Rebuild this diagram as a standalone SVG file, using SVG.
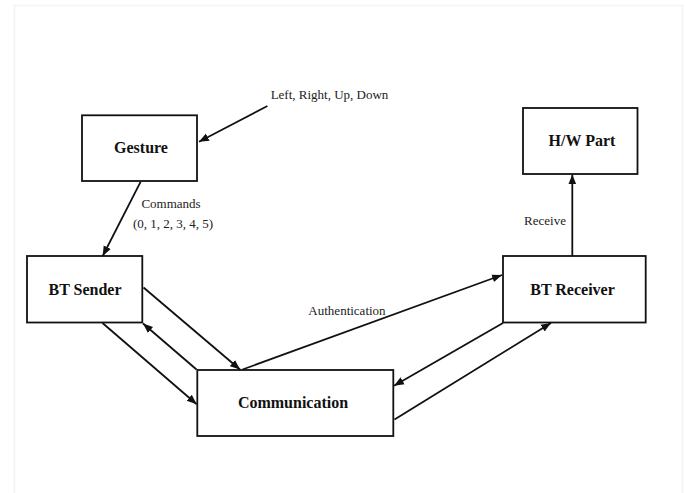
<svg xmlns="http://www.w3.org/2000/svg" width="685" height="493" viewBox="0 0 685 493">
<style>
.box{fill:#fff;stroke:#111;stroke-width:1.8}
.lbl{font-family:"Liberation Serif","Times New Roman",serif;font-weight:bold;font-size:16px;fill:#111;text-anchor:middle;dominant-baseline:central}
.note{font-family:"Liberation Serif","Times New Roman",serif;font-size:13px;fill:#222;text-anchor:middle;dominant-baseline:central}
.con{stroke:#111;stroke-width:1.8;fill:none;marker-end:url(#ah)}
</style>
<defs>
<marker id="ah" viewBox="0 0 10 10" refX="10" refY="5" markerWidth="5.5" markerHeight="5.5" orient="auto" markerUnits="strokeWidth">
<path d="M0,1 L10,5 L0,9 z" fill="#111"/>
</marker>
</defs>
<rect x="0" y="0" width="685" height="493" fill="#fff"/>
<rect x="14.5" y="5.5" width="668" height="490" fill="none" stroke="#f2f2f2" stroke-width="1.5"/>

<g id="connectors">
<line class="con" x1="267.4" y1="106" x2="199" y2="141.7"/>
<line class="con" x1="140.7" y1="181.7" x2="102.7" y2="256"/>
<line class="con" x1="143.5" y1="287.5" x2="240" y2="369.5"/>
<line class="con" x1="196.5" y1="369.5" x2="143" y2="323.5"/>
<line class="con" x1="102.5" y1="323" x2="196.7" y2="404.3"/>
<line class="con" x1="242.5" y1="369.5" x2="502" y2="275"/>
<line class="con" x1="503" y1="323" x2="394" y2="385.7"/>
<line class="con" x1="394.5" y1="419.5" x2="551" y2="323"/>
<line class="con" x1="572.3" y1="256" x2="572.3" y2="174.5"/>
<text class="note" x="329.5" y="94">Left, Right, Up, Down</text>
<text class="note" x="171" y="203.5">Commands</text>
<text class="note" x="173" y="223.5">(0, 1, 2, 3, 4, 5)</text>
<text class="note" x="347" y="310">Authentication</text>
<text class="note" x="545" y="220">Receive</text>
</g>

<g id="gesture">
<rect class="box" x="82" y="115.3" width="115" height="65.7"/>
<text class="lbl" x="141" y="147">Gesture</text>
</g>
<g id="bt-sender">
<rect class="box" x="27" y="256" width="115.3" height="66.5"/>
<text class="lbl" x="85" y="289">BT Sender</text>
</g>
<g id="hw-part">
<rect class="box" x="523" y="108" width="114.5" height="66"/>
<text class="lbl" x="582" y="140">H/W Part</text>
</g>
<g id="bt-receiver">
<rect class="box" x="503" y="256" width="142.7" height="66.5"/>
<text class="lbl" x="572.5" y="289">BT Receiver</text>
</g>
<g id="communication">
<rect class="box" x="197.3" y="370" width="196" height="66"/>
<text class="lbl" x="293" y="402">Communication</text>
</g>
</svg>
